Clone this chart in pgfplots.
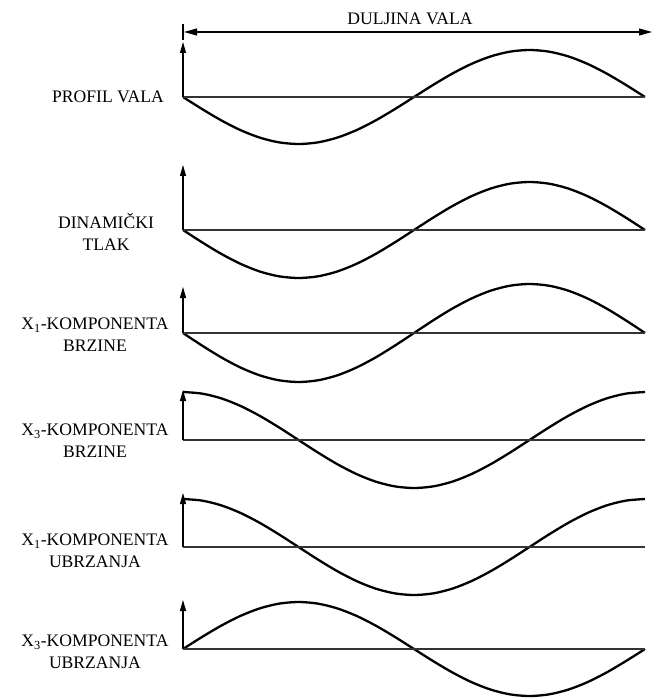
\documentclass[border=0pt]{standalone}
\usepackage{fontspec}
\setmainfont{Liberation Serif}
\usepackage{pgfplots}
\usepackage{pgfplotstable}
\pgfplotsset{compat=1.18}
\usetikzlibrary{arrows.meta}
\newcommand\lbl{\fontsize{17.6bp}{22bp}\selectfont}
\pgfplotstableread{
t s c
0 0 1
0.041667 0.258819 0.965926
0.083333 0.5 0.866025
0.125 0.707107 0.707107
0.166667 0.866025 0.5
0.208333 0.965926 0.258819
0.25 1 0
0.291667 0.965926 -0.258819
0.333333 0.866025 -0.5
0.375 0.707107 -0.707107
0.416667 0.5 -0.866025
0.458333 0.258819 -0.965926
0.5 0 -1
0.541667 -0.258819 -0.965926
0.583333 -0.5 -0.866025
0.625 -0.707107 -0.707107
0.666667 -0.866025 -0.5
0.708333 -0.965926 -0.258819
0.75 -1 0
0.791667 -0.965926 0.258819
0.833333 -0.866025 0.5
0.875 -0.707107 0.707107
0.916667 -0.5 0.866025
0.958333 -0.258819 0.965926
1 0 1
}\wave
\begin{document}
\begin{tikzpicture}
\begin{axis}[scale only axis, width=653bp, height=699bp,
  xmin=0, xmax=653, ymin=0, ymax=699, y dir=reverse,
  hide axis, clip=false]
\path (axis cs:0,0) (axis cs:653,699);
% curves
\addplot[no marks, smooth, line width=2.3bp, black] table[x expr=183+462*\thisrow{t}, y expr=97+47*\thisrow{s}] {\wave};
\addplot[no marks, smooth, line width=2.3bp, black] table[x expr=183+462*\thisrow{t}, y expr=230+48*\thisrow{s}] {\wave};
\addplot[no marks, smooth, line width=2.3bp, black] table[x expr=183+462*\thisrow{t}, y expr=333+49*\thisrow{s}] {\wave};
\addplot[no marks, smooth, line width=2.3bp, black] table[x expr=183+462*\thisrow{t}, y expr=440-48*\thisrow{c}] {\wave};
\addplot[no marks, smooth, line width=2.3bp, black] table[x expr=183+462*\thisrow{t}, y expr=547-48*\thisrow{c}] {\wave};
\addplot[no marks, smooth, line width=2.3bp, black] table[x expr=183+462*\thisrow{t}, y expr=649-47*\thisrow{s}] {\wave};
% baselines
\addplot[no marks, line width=1.1bp, black!80] coordinates {(183,97) (645,97)};
\addplot[no marks, line width=1.1bp, black!80] coordinates {(183,230) (645,230)};
\addplot[no marks, line width=1.1bp, black!80] coordinates {(183,333) (645,333)};
\addplot[no marks, line width=1.1bp, black!80] coordinates {(183,440) (645,440)};
\addplot[no marks, line width=1.1bp, black!80] coordinates {(183,547) (645,547)};
\addplot[no marks, line width=1.1bp, black!80] coordinates {(183,649) (645,649)};
% vertical arrows
\draw[line width=1.1bp, -{Triangle[length=11bp,width=6bp]}] (axis cs:183,97) -- (axis cs:183,42);
\draw[line width=1.1bp, -{Triangle[length=11bp,width=6bp]}] (axis cs:183,230) -- (axis cs:183,165);
\draw[line width=1.1bp, -{Triangle[length=11bp,width=6bp]}] (axis cs:183,333) -- (axis cs:183,287);
\draw[line width=1.1bp, -{Triangle[length=11bp,width=6bp]}] (axis cs:183,440) -- (axis cs:183,390);
\draw[line width=1.1bp, -{Triangle[length=11bp,width=6bp]}] (axis cs:183,547) -- (axis cs:183,493);
\draw[line width=1.1bp, -{Triangle[length=11bp,width=6bp]}] (axis cs:183,649) -- (axis cs:183,600);
% wavelength arrow
\draw[line width=1.1bp, {Triangle[length=13bp,width=7bp]}-{Triangle[length=13bp,width=7bp]}] (axis cs:184,32) -- (axis cs:652,32);
\draw[line width=1.1bp] (axis cs:183,24) -- (axis cs:183,40);
\node[font=\lbl] at (axis cs:410,19) {DULJINA VALA};
% labels
\node[font=\lbl, anchor=east, inner sep=0pt] at (axis cs:164,97) {PROFIL VALA};
\node[font=\lbl, align=center, inner sep=0pt] at (axis cs:106,232) {DINAMIČKI\\TLAK};
\node[font=\lbl, align=center, inner sep=0pt] at (axis cs:95,335) {X\textsubscript{1}-KOMPONENTA\\BRZINE};
\node[font=\lbl, align=center, inner sep=0pt] at (axis cs:95,441) {X\textsubscript{3}-KOMPONENTA\\BRZINE};
\node[font=\lbl, align=center, inner sep=0pt] at (axis cs:95,551) {X\textsubscript{1}-KOMPONENTA\\UBRZANJA};
\node[font=\lbl, align=center, inner sep=0pt] at (axis cs:95,652) {X\textsubscript{3}-KOMPONENTA\\UBRZANJA};
\end{axis}
\end{tikzpicture}
\end{document}
